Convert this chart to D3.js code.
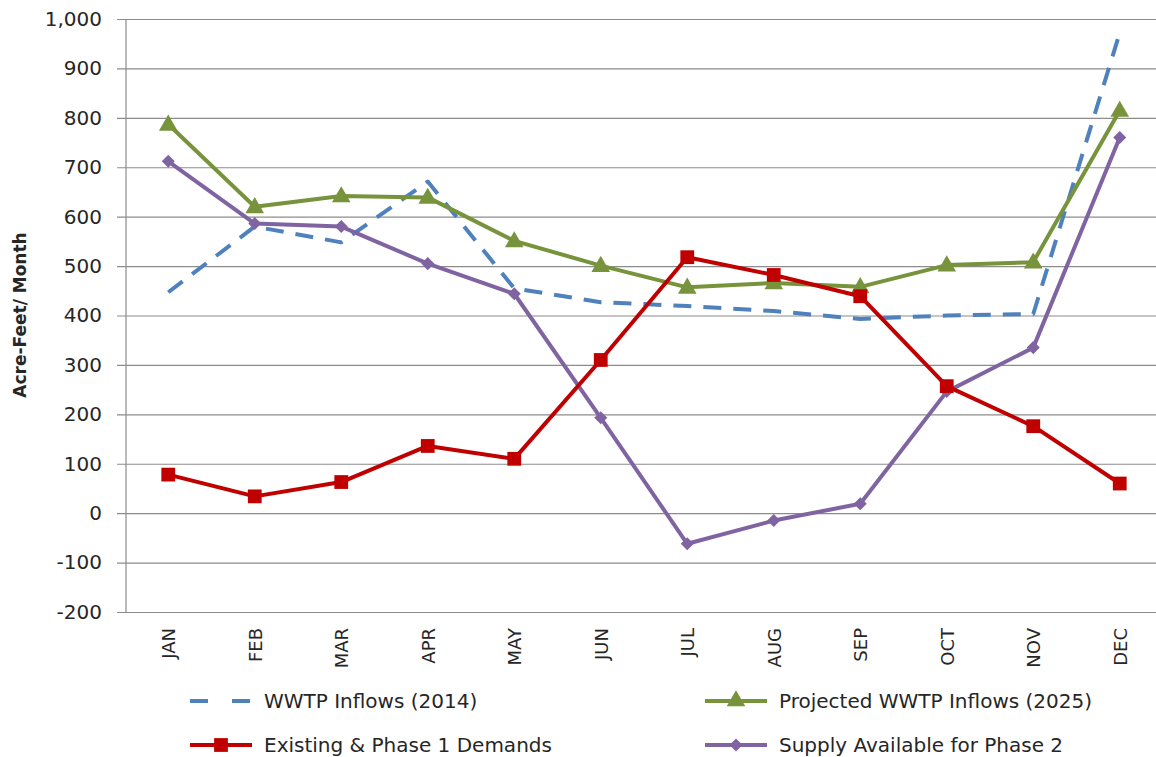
<!DOCTYPE html>
<html>
<head>
<meta charset="utf-8">
<script src="https://cdn.jsdelivr.net/npm/d3@7"></script>
<style>
    body { margin: 0; background: #fff; }
    text { font-family: "DejaVu Sans", sans-serif; fill: #262626; }
</style>
</head>
<body>
<div id="chart"></div>
<script>
    // chart data
    const months = ["JAN", "FEB", "MAR", "APR", "MAY", "JUN", "JUL", "AUG", "SEP", "OCT", "NOV", "DEC"];
    const inflows2014 = [447, 580, 548, 671, 455, 427, 419, 409, 393, 400, 403, 972];
    const inflows2025 = [787, 620, 642, 639, 551, 501, 457, 466, 458, 502, 508, 815];
    const demands = [78, 34, 63, 136, 110, 310, 518, 482, 439, 257, 176, 60];
    const supplyPhase2 = [712, 586, 580, 505, 444, 193, -62, -15, 19, 246, 335, 760];
    const yTicks = [-200, -100, 0, 100, 200, 300, 400, 500, 600, 700, 800, 900, 1000];

    const series = [
        {name: "WWTP Inflows (2014)", values: inflows2014, color: "#4F81BD", dash: "18,12", marker: null},
        {name: "Projected WWTP Inflows (2025)", values: inflows2025, color: "#77933C", dash: null, marker: "triangle"},
        {name: "Existing & Phase 1 Demands", values: demands, color: "#C00000", dash: null, marker: "square"},
        {name: "Supply Available for Phase 2", values: supplyPhase2, color: "#8064A2", dash: null, marker: "diamond"}
    ];
    // draw order: blue dashed first, then green, purple, red on top
    const drawOrder = [0, 1, 3, 2];

    const w = 1156;
    const h = 757;

    const svg = d3.select("#chart")
        .append("svg")
        .attr("width", w)
        .attr("height", h);

    const x = d3.scaleBand()
        .domain(months)
        .range([125, 1163])
        .padding(0);

    const y = d3.scaleLinear()
        .domain([-200, 1000])
        .range([612, 19]);

    const cx = (m) => x(m) + x.bandwidth() / 2;

    const fmt = d3.format(",");

    // gridlines + y labels
    const yAxis = d3.axisLeft(y)
        .tickValues(yTicks)
        .tickSize(-(1163 - 126))
        .tickSizeOuter(0)
        .tickFormat((d) => fmt(d).replace("\u2212", "-"));

    const gy = svg.append("g")
        .attr("transform", "translate(126,0)")
        .call(yAxis);
    gy.select(".domain").remove();
    gy.selectAll(".tick line")
        .attr("x1", -9)
        .attr("stroke", "#8c8c8c")
        .attr("stroke-width", 1.2);
    gy.selectAll(".tick text")
        .attr("x", -24)
        .style("font-size", "20px")
        .style("font-family", "DejaVu Sans, sans-serif")
        .attr("fill", "#262626");

    // left axis line
    svg.append("line")
        .attr("x1", 126).attr("x2", 126)
        .attr("y1", y(1000)).attr("y2", y(-200))
        .attr("stroke", "#8c8c8c")
        .attr("stroke-width", 1.2);

    // month labels
    svg.selectAll(".month")
        .data(months)
        .enter()
        .append("text")
        .attr("class", "month")
        .attr("transform", (d) => `translate(${cx(d) + 7}, 628) rotate(-90)`)
        .attr("text-anchor", "end")
        .style("font-size", "18px")
        .text((d) => d);

    // y title
    svg.append("text")
        .attr("transform", "translate(26, 315) rotate(-90)")
        .attr("text-anchor", "middle")
        .style("font-size", "17px")
        .style("font-weight", "bold")
        .attr("fill", "#000")
        .text("Acre-Feet/ Month");

    const line = d3.line()
        .x((d, i) => cx(months[i]))
        .y((d) => y(d));

    const symbols = {
        triangle: d3.symbol().type(d3.symbolTriangle).size(150),
        square: d3.symbol().type(d3.symbolSquare).size(190),
        diamond: d3.symbol().type(d3.symbolSquare).size(85)
    };
    const rot = (m) => (m === "diamond" ? " rotate(45)" : "");

    drawOrder.forEach((si) => {
        const s = series[si];
        svg.append("path")
            .datum(s.values)
            .attr("d", line)
            .attr("fill", "none")
            .attr("stroke", s.color)
            .attr("stroke-width", 4)
            .attr("stroke-linejoin", "round")
            .attr("stroke-dasharray", s.dash);

        if (s.marker) {
            svg.selectAll(".m" + si)
                .data(s.values)
                .enter()
                .append("path")
                .attr("class", "m" + si)
                .attr("d", symbols[s.marker])
                .attr("transform", (d, i) => `translate(${cx(months[i])}, ${y(d) + (s.marker === "triangle" ? 1 : 0)})` + rot(s.marker))
                .attr("fill", s.color);
        }
    });

    // legend
    const legendPos = [
        {x: 190, y: 701},
        {x: 705, y: 701},
        {x: 190, y: 745},
        {x: 705, y: 745}
    ];

    series.forEach((s, i) => {
        const p = legendPos[i];
        const g = svg.append("g").attr("transform", `translate(${p.x}, ${p.y})`);
        if (s.dash) {
            g.append("line")
                .attr("x1", 0).attr("x2", 62)
                .attr("stroke", s.color)
                .attr("stroke-width", 4)
                .attr("stroke-dasharray", "18,24");
        } else {
            g.append("line")
                .attr("x1", 0).attr("x2", 62)
                .attr("stroke", s.color)
                .attr("stroke-width", 4);
            g.append("path")
                .attr("d", symbols[s.marker])
                .attr("transform", "translate(31,0)" + rot(s.marker))
                .attr("fill", s.color);
        }
        g.append("text")
            .attr("x", 74)
            .attr("dy", "0.35em")
            .style("font-size", "20px")
            .text(s.name);
    });
</script>
</body>
</html>
